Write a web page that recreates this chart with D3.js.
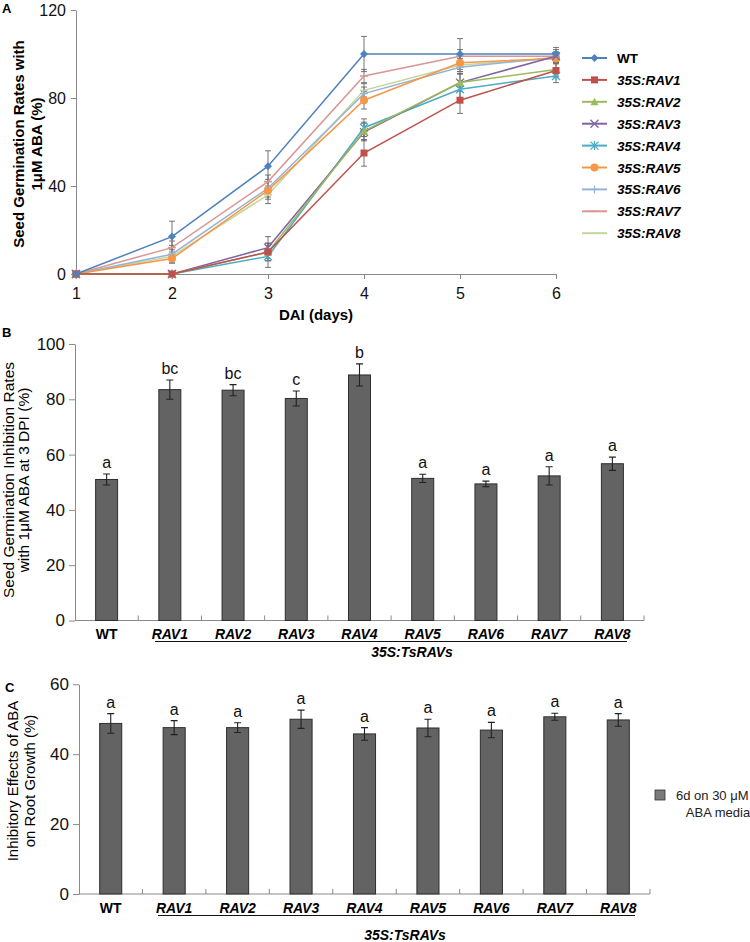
<!DOCTYPE html>
<html><head><meta charset="utf-8">
<script src="https://cdn.jsdelivr.net/npm/d3@7"></script>
<style>body{margin:0;background:#fff} svg{display:block;font-family:Arial,"Liberation Sans",sans-serif}</style>
</head><body><svg id="c" width="750" height="942"></svg>
<script>
// ---------- Panel A data ----------
const days = [1, 2, 3, 4, 5, 6];
const seriesNames = ["WT", "35S:RAV1", "35S:RAV2", "35S:RAV3", "35S:RAV4", "35S:RAV5", "35S:RAV6", "35S:RAV7", "35S:RAV8"];
const valWT   = [0, 17, 49, 100, 100, 100];
const valRAV1 = [0, 0, 10, 55, 79, 92.5];
const valRAV2 = [0, 0, 10, 65, 87, 93];
const valRAV3 = [0, 0, 12, 64.5, 87, 99];
const valRAV4 = [0, 0, 8, 66.5, 84, 90];
const valRAV5 = [0, 7, 38, 79, 96, 98];
const valRAV6 = [0, 9, 39, 82, 94, 98.5];
const valRAV7 = [0, 12, 42, 90, 99, 99];
const valRAV8 = [0, 8, 36, 83.5, 95, 98];
const errWT   = [0, 7, 7, 8, 7, 3];
const errRAV1 = [0, 0, 4, 6, 6, 3];
const errRAV2 = [0, 0, 4, 4, 4, 3];
const errRAV3 = [0, 0, 5, 4, 4, 3];
const errRAV4 = [0, 0, 5, 4, 4, 3];
const errRAV5 = [0, 0, 4, 4, 4, 2];
const errRAV6 = [0, 4, 4, 3, 3, 2];
const errRAV7 = [0, 3, 3, 3, 3, 2];
const errRAV8 = [0, 3, 4, 3, 3, 2];
const ticksA = [0, 40, 80, 120];

// ---------- Panel B data ----------
const barCats = ["WT", "RAV1", "RAV2", "RAV3", "RAV4", "RAV5", "RAV6", "RAV7", "RAV8"];
const inhibB = [51, 83.5, 83.3, 80.3, 88.8, 51.4, 49.4, 52.3, 56.7];
const errB   = [2, 3.5, 2, 2.7, 4, 1.5, 1, 3.3, 2.4];
const lettersB = ["a", "bc", "bc", "c", "b", "a", "a", "a", "a"];
const ticksB = [0, 20, 40, 60, 80, 100];

// ---------- Panel C data ----------
const rootC = [48.8, 47.6, 47.6, 50, 45.8, 47.5, 46.9, 50.7, 49.8];
const errC  = [2.8, 2, 1.4, 2.6, 1.8, 2.5, 2.2, 1, 1.8];
const lettersC = ["a", "a", "a", "a", "a", "a", "a", "a", "a"];
const ticksC = [0, 20, 40, 60];

// ---------- styles ----------
const colors = ["#4F81BD", "#C0504D", "#9BBB59", "#8064A2", "#4BACC6", "#F79646", "#95B3D7", "#D99694", "#C3D69B"];
const markers = ["diamond", "square", "triangle", "x", "star", "circle", "plus", "dash", "dash"];
const allVals = [valWT, valRAV1, valRAV2, valRAV3, valRAV4, valRAV5, valRAV6, valRAV7, valRAV8];
const allErrs = [errWT, errRAV1, errRAV2, errRAV3, errRAV4, errRAV5, errRAV6, errRAV7, errRAV8];

const svg = d3.select("#c");
const axisCol = "#8a8a8a";

function drawMarker(g, type, x, y, col) {
  const m = g.append("g").attr("transform", `translate(${x},${y})`);
  if (type === "diamond") m.append("path").attr("d", "M0,-4L4,0L0,4L-4,0Z").attr("fill", col);
  else if (type === "square") m.append("rect").attr("x", -3.5).attr("y", -3.5).attr("width", 7).attr("height", 7).attr("fill", col);
  else if (type === "triangle") m.append("path").attr("d", "M0,-4L4,3.5L-4,3.5Z").attr("fill", col);
  else if (type === "circle") m.append("circle").attr("r", 4).attr("fill", col);
  else if (type === "x") m.append("path").attr("d", "M-4,-4L4,4M-4,4L4,-4").attr("stroke", col).attr("stroke-width", 1.3);
  else if (type === "star") m.append("path").attr("d", "M-4,-4L4,4M-4,4L4,-4M0,-4.5L0,4.5").attr("stroke", col).attr("stroke-width", 1.3);
  else if (type === "plus") m.append("path").attr("d", "M-4,0L4,0M0,-4L0,4").attr("stroke", col).attr("stroke-width", 1.2);
  else if (type === "dash") m.append("path").attr("d", "M-4,0L4,0").attr("stroke", col).attr("stroke-width", 1.6);
}

// ================= PANEL A =================
const xA = d3.scaleLinear().domain([1, 6]).range([76, 556]);
const yA = d3.scaleLinear().domain([0, 120]).range([274, 10]);
const gA = svg.append("g");

gA.append("g").attr("transform", "translate(0,274)")
  .call(d3.axisBottom(xA).tickValues(days).tickSize(5).tickSizeOuter(0).tickFormat(d3.format("d")))
  .call(g => { g.select(".domain").attr("stroke", axisCol); g.selectAll("line").attr("stroke", axisCol);
    g.selectAll("text").attr("font-size", 16).attr("fill", "#111").attr("dy", "1.05em"); });
gA.append("g").attr("transform", "translate(76,0)")
  .call(d3.axisLeft(yA).tickValues(ticksA).tickSize(5).tickSizeOuter(0))
  .call(g => { g.select(".domain").attr("stroke", axisCol); g.selectAll("line").attr("stroke", axisCol);
    g.selectAll("text").attr("font-size", 16).attr("fill", "#111").attr("x", -10); });

allVals.forEach((vals, si) => {
  vals.forEach((v, i) => {
    const e = allErrs[si][i]; if (!e) return;
    const x = xA(days[i]);
    gA.append("path").attr("d", `M${x},${yA(v + e)}V${yA(Math.max(0, v - e))}M${x - 3},${yA(v + e)}H${x + 3}M${x - 3},${yA(Math.max(0, v - e))}H${x + 3}`)
      .attr("stroke", "#666").attr("stroke-width", 0.9).attr("fill", "none");
  });
});
const line = d3.line().x((d, i) => xA(days[i])).y(d => yA(d));
for (let si = allVals.length - 1; si >= 0; si--) {
  gA.append("path").datum(allVals[si]).attr("d", line).attr("fill", "none").attr("stroke", colors[si]).attr("stroke-width", 1.5);
  allVals[si].forEach((v, i) => drawMarker(gA, markers[si], xA(days[i]), yA(v), colors[si]));
}
gA.append("text").attr("x", 316).attr("y", 320).attr("text-anchor", "middle").attr("font-size", 15).attr("font-weight", "bold").text("DAI (days)");
const ytA = gA.append("text").attr("transform", "translate(19,144) rotate(-90)").attr("text-anchor", "middle").attr("font-size", 15).attr("font-weight", "bold");
ytA.append("tspan").attr("x", 0).attr("dy", "0.35em").text("Seed Germination Rates with");
ytA.append("tspan").attr("x", 0).attr("dy", 18).text("1\u03BCM ABA (%)");
gA.append("text").attr("x", 2).attr("y", 13).attr("font-size", 13).attr("font-weight", "bold").text("A");

// legend A
seriesNames.forEach((n, i) => {
  const y = 58 + i * 21.9;
  gA.append("line").attr("x1", 582).attr("x2", 607).attr("y1", y).attr("y2", y).attr("stroke", colors[i]).attr("stroke-width", 2);
  drawMarker(gA, markers[i], 594.5, y, colors[i]);
  gA.append("text").attr("x", 617).attr("y", y + 5).attr("font-size", 13.5).attr("font-weight", "bold")
    .attr("font-style", i === 0 ? "normal" : "italic").text(n);
});

// ================= BAR PANELS =================
function barPanel(opt) {
  const g = svg.append("g");
  const x = d3.scaleBand().domain(barCats).range(opt.xr).paddingInner(0.652).paddingOuter(0.326);
  const y = d3.scaleLinear().domain([0, opt.ymax]).range([opt.y0, opt.ytop]);
  const step = x.step();
  for (let k = 1; k <= barCats.length; k++) {
    const xx = opt.xr[0] + k * step;
    g.append("line").attr("x1", xx).attr("x2", xx).attr("y1", opt.y0).attr("y2", opt.y0 - 5).attr("stroke", axisCol);
  }
  g.append("line").attr("x1", opt.xr[0]).attr("x2", opt.xr[1]).attr("y1", opt.y0).attr("y2", opt.y0).attr("stroke", axisCol);
  g.append("g").attr("transform", `translate(${opt.xr[0]},0)`)
    .call(d3.axisLeft(y).tickValues(opt.ticks).tickSize(6).tickSizeOuter(0))
    .call(gg => { gg.select(".domain").attr("stroke", axisCol); gg.selectAll("line").attr("stroke", axisCol);
      gg.selectAll("text").attr("font-size", 17).attr("fill", "#111").attr("x", -10); });
  g.selectAll("rect.bar").data(opt.vals).join("rect").attr("class", "bar")
    .attr("x", (d, i) => x(barCats[i])).attr("width", x.bandwidth())
    .attr("y", d => y(d)).attr("height", d => opt.y0 - y(d))
    .attr("fill", "#636363").attr("stroke", "#2e2e2e").attr("stroke-width", 1);
  opt.vals.forEach((v, i) => {
    const cx = x(barCats[i]) + x.bandwidth() / 2, e = opt.errs[i];
    g.append("path").attr("d", `M${cx},${y(v + e)}V${y(v - e)}M${cx - 3.5},${y(v + e)}H${cx + 3.5}M${cx - 3.5},${y(v - e)}H${cx + 3.5}`)
      .attr("stroke", "#222").attr("stroke-width", 1.1).attr("fill", "none");
    g.append("text").attr("x", cx).attr("y", y(v + e) - 6).attr("text-anchor", "middle").attr("font-size", 16).attr("fill", "#111").text(opt.letters[i]);
    g.append("text").attr("x", cx).attr("y", opt.labY).attr("text-anchor", "middle").attr("font-size", 14)
      .attr("font-weight", "bold").attr("font-style", i === 0 ? "normal" : "italic").text(barCats[i]);
  });
  g.append("line").attr("x1", opt.ul[0]).attr("x2", opt.ul[1]).attr("y1", opt.labY + 2.5).attr("y2", opt.labY + 2.5).attr("stroke", "#111").attr("stroke-width", 1);
  g.append("text").attr("x", opt.grpX).attr("y", opt.grpY).attr("text-anchor", "middle").attr("font-size", 14)
    .attr("font-weight", "bold").attr("font-style", "italic").text("35S:TsRAVs");
  const yt = g.append("text").attr("transform", `translate(${opt.titleX},${opt.titleY}) rotate(-90)`).attr("text-anchor", "middle").attr("font-size", opt.titleSize);
  yt.append("tspan").attr("x", 0).attr("dy", "0.35em").text(opt.title[0]);
  yt.append("tspan").attr("x", 0).attr("dy", opt.lineGap).text(opt.title[1]);
  g.append("text").attr("x", opt.pl[0]).attr("y", opt.pl[1]).attr("font-size", 13).attr("font-weight", "bold").text(opt.panel);
  return g;
}

barPanel({ xr: [75, 644], y0: 620.5, ytop: 344, ymax: 100, ticks: ticksB, vals: inhibB, errs: errB, letters: lettersB,
  labY: 639, ul: [155, 627], grpX: 412, grpY: 657, titleX: 9, titleY: 480, titleSize: 15.5, lineGap: 15,
  title: ["Seed Germination Inhibition Rates", "with 1\u03BCM ABA at 3 DPI (%)"], panel: "B", pl: [2, 337] });

const gC = barPanel({ xr: [79, 650], y0: 894, ytop: 684.3, ymax: 60, ticks: ticksC, vals: rootC, errs: errC, letters: lettersC,
  labY: 913, ul: [158, 635], grpX: 405, grpY: 940, titleX: 13, titleY: 781, titleSize: 15, lineGap: 17,
  title: ["Inhibitory Effects  of ABA", "on Root Growth (%)"], panel: "C", pl: [5, 692] });

// legend C
gC.append("rect").attr("x", 655).attr("y", 790).attr("width", 10).attr("height", 10).attr("fill", "#7a7a7a").attr("stroke", "#333").attr("stroke-width", 0.8);
gC.append("text").attr("x", 676).attr("y", 800).attr("font-size", 13).attr("fill", "#222").text("6d on 30 \u03BCM");
gC.append("text").attr("x", 718).attr("y", 817).attr("text-anchor", "middle").attr("font-size", 13).attr("fill", "#222").text("ABA media");
</script></body></html>
